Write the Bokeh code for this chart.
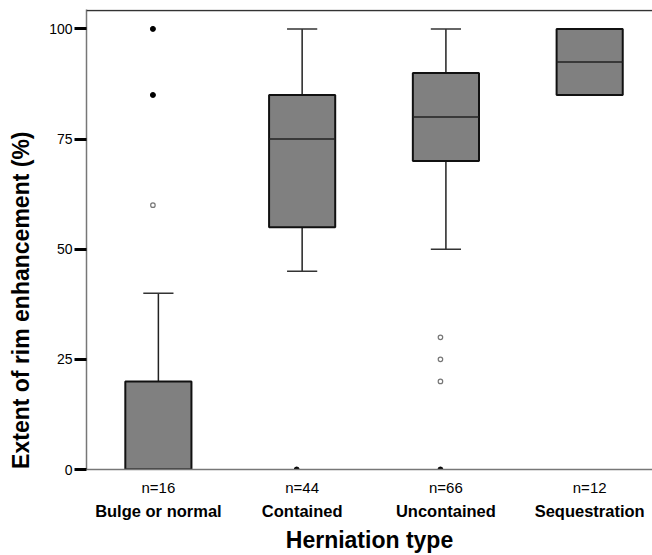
from bokeh.plotting import figure
from bokeh.models import ColumnDataSource, FixedTicker, LinearAxis, Range1d, Span
from bokeh.transform import dodge
from bokeh.embed import file_html
from bokeh.resources import INLINE

# ---- data ----
categories = ["Bulge or normal", "Contained", "Uncontained", "Sequestration"]
n_counts = [16, 44, 66, 12]
q1 = [0, 55, 70, 85]
medians = [0, 75, 80, 92.5]
q3 = [20, 85, 90, 100]
whisker_low = [0, 45, 50, 85]
whisker_high = [40, 100, 100, 100]
extreme_cat = [1, 1, 2, 3]
extreme_val = [100, 85, 0, 0]
outlier_cat = [1, 3, 3, 3]
outlier_val = [60, 30, 25, 20]
y_ticks = [0, 25, 50, 75, 100]
y_title = "Extent of rim enhancement (%)"
x_title = "Herniation type"

FONT = "Liberation Sans"
pos = list(range(1, len(categories) + 1))
BOX_W = 0.46
CAP_W = 0.21
Y_TOP = 104.4

p = figure(width=652, height=555, x_range=Range1d(0.5, 4.437), y_range=Range1d(0, Y_TOP),
           output_backend="svg", toolbar_location=None,
           min_border_left=86, min_border_right=0, min_border_top=9, min_border_bottom=86)
p.grid.visible = False
p.outline_line_color = None
p.background_fill_color = "white"
p.border_fill_color = "white"

src = ColumnDataSource(dict(
    x=pos, q1=q1, med=medians, q3=q3, lo=whisker_low, hi=whisker_high,
    bx0=[c - BOX_W / 2 for c in pos], bx1=[c + BOX_W / 2 for c in pos],
    cx0=[c - CAP_W / 2 for c in pos], cx1=[c + CAP_W / 2 for c in pos],
))

# top frame line
p.add_layout(Span(location=Y_TOP - 0.2, dimension="width", line_color="#333333", line_width=1.5))

# whiskers
p.segment(x0="x", y0="q3", x1="x", y1="hi", source=src, line_color="#222222", line_width=1.5)
p.segment(x0="x", y0="lo", x1="x", y1="q1", source=src, line_color="#222222", line_width=1.5)
p.segment(x0="cx0", y0="hi", x1="cx1", y1="hi", source=src, line_color="#333333", line_width=1.5)
p.segment(x0="cx0", y0="lo", x1="cx1", y1="lo", source=src, line_color="#333333", line_width=1.5)
# boxes
p.vbar(x="x", bottom="q1", top="q3", width=BOX_W, source=src,
       fill_color="#808080", line_color="#111111", line_width=2)
p.segment(x0="bx0", y0="med", x1="bx1", y1="med", source=src, line_color="#222222", line_width=1.5)

# outliers / extremes
ext = ColumnDataSource(dict(x=extreme_cat, y=extreme_val))
out = ColumnDataSource(dict(x=outlier_cat, y=outlier_val))
p.scatter(x=dodge("x", -0.038, range=p.x_range), y="y", source=ext, marker="circle",
          size=5, fill_color="black", line_color="black")
p.scatter(x=dodge("x", -0.038, range=p.x_range), y="y", source=out, marker="circle",
          size=4.5, fill_color=None, line_color="#777777", line_width=1.2)

# x axis 1 : counts (the figure's own bottom axis)
xa = p.below[0]
xa.ticker = FixedTicker(ticks=pos)
xa.major_label_overrides = {c: f"n={n}" for c, n in zip(pos, n_counts)}
xa.axis_line_color = "#777777"
xa.axis_line_width = 1.5
xa.major_tick_line_color = None
xa.minor_tick_line_color = None
xa.major_tick_out = 0
xa.minor_tick_out = 0
xa.major_label_standoff = 9
xa.major_label_text_font = FONT
xa.major_label_text_font_size = "15px"
xa.major_label_text_color = "black"

# y axis
ya = p.left[0]
ya.ticker = FixedTicker(ticks=y_ticks)
ya.axis_line_color = "#777777"
ya.axis_line_width = 1.5
ya.major_tick_out = 12
ya.major_tick_in = 0
ya.major_tick_line_width = 3
ya.major_tick_line_color = "black"
ya.minor_tick_line_color = None
ya.major_label_standoff = 2
ya.major_label_text_font = FONT
ya.major_label_text_font_size = "14px"
ya.major_label_text_color = "black"
# trailing no-break spaces shift the visible title down toward the axis origin, as in the reference
ya.axis_label = y_title + "\u00a0" * 19
ya.axis_label_standoff = 12
ya.axis_label_text_font = FONT
ya.axis_label_text_font_size = "23px"
ya.axis_label_text_font_style = "bold"
ya.axis_label_text_color = "black"

# x axis 2 : category names + title
xb = LinearAxis(ticker=FixedTicker(ticks=pos),
                major_label_overrides={c: name for c, name in zip(pos, categories)},
                axis_label=x_title)
xb.axis_line_color = None
xb.major_tick_line_color = None
xb.minor_tick_line_color = None
xb.major_tick_out = 0
xb.minor_tick_out = 0
xb.major_label_standoff = 3
xb.major_label_text_font = FONT
xb.major_label_text_font_size = "16.5px"
xb.major_label_text_font_style = "bold"
xb.major_label_text_color = "black"
xb.axis_label_standoff = 4
xb.axis_label_text_font = FONT
xb.axis_label_text_font_size = "23px"
xb.axis_label_text_font_style = "bold"
xb.axis_label_text_color = "black"
p.add_layout(xb, "below")

open("out.html", "w").write(file_html(p, INLINE))
